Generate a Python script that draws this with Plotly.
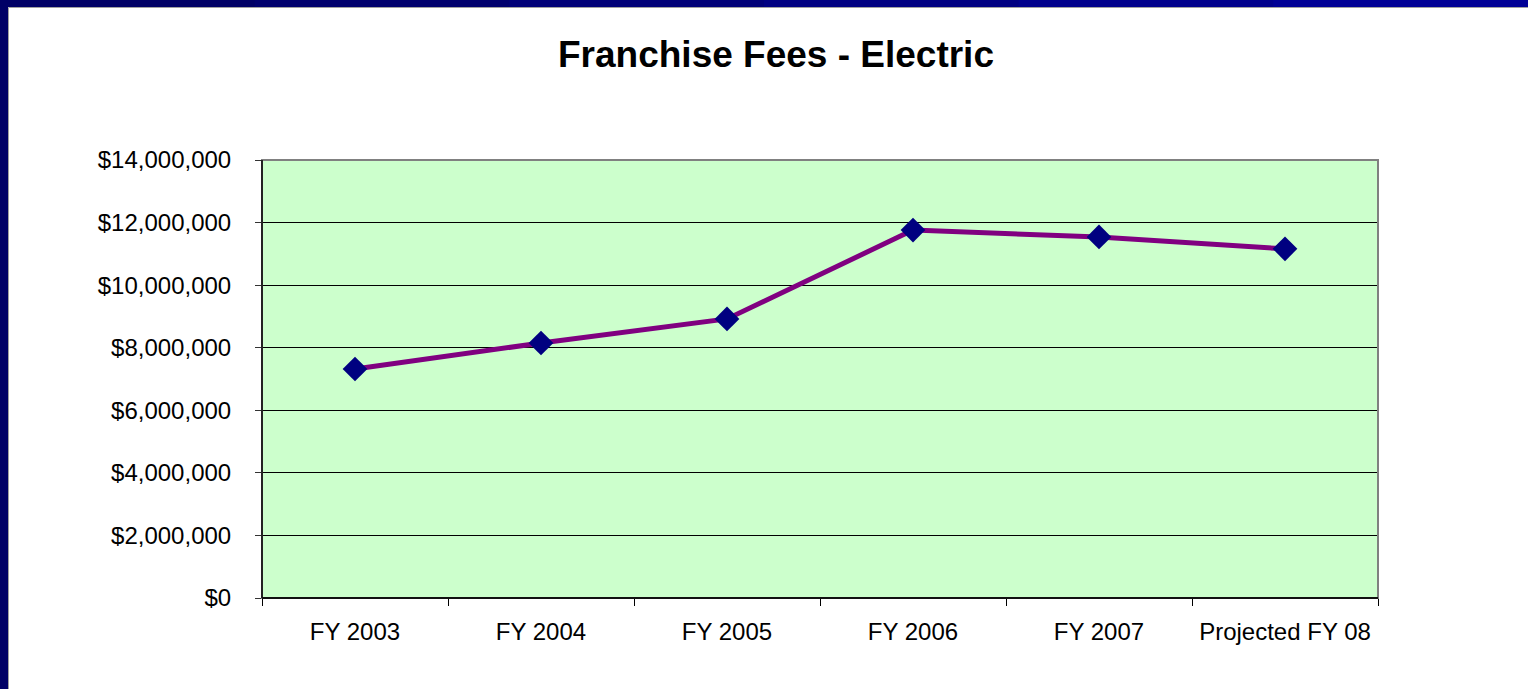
import plotly.graph_objects as go

# Franchise fees, electric
years = ["FY 2003", "FY 2004", "FY 2005", "FY 2006", "FY 2007", "Projected FY 08"]
fees = [7320000, 8150000, 8920000, 11760000, 11540000, 11160000]

W, H = 1528, 689
L, R, T, B = 262, 150, 160, 91
pw, ph = W - L - R, H - T - B


def px_x(p):
    return (p - L) / pw


def px_y(p):
    return 1 - (p - T) / ph


fig = go.Figure()
fig.add_trace(go.Scatter(
    x=years, y=fees, mode="lines+markers",
    line=dict(color="#800080", width=5),
    marker=dict(symbol="diamond", size=19, color="#000080"),
    showlegend=False, hoverinfo="x+y",
))

shapes = []
# plot area frame (gray top/right)
shapes.append(dict(type="rect", xref="paper", yref="paper", x0=0, x1=1, y0=0, y1=1,
                   line=dict(color="#808080", width=2), layer="above"))
shapes.append(dict(type="line", xref="paper", yref="paper", x0=0, x1=0, y0=0, y1=1,
                   line=dict(color="#222222", width=2), layer="above"))
shapes.append(dict(type="line", xref="paper", yref="paper", x0=0, x1=1, y0=0, y1=0,
                   line=dict(color="#111111", width=2), layer="above"))
# navy slide border: left and top
shapes.append(dict(type="rect", xref="paper", yref="paper",
                   x0=px_x(-5), x1=px_x(8), y0=px_y(H + 5), y1=px_y(-5),
                   fillcolor="#000066", line=dict(width=0)))
top_cols = ["#000066", "#00006E", "#000078", "#000082", "#00008C", "#000096"]
seg = W / len(top_cols)
for i, c in enumerate(top_cols):
    shapes.append(dict(type="rect", xref="paper", yref="paper",
                       x0=px_x(i * seg if i else -5), x1=px_x((i + 1) * seg + 2),
                       y0=px_y(7), y1=px_y(-5),
                       fillcolor=c, line=dict(width=0)))
# thin gray inner edge
shapes.append(dict(type="line", xref="paper", yref="paper",
                   x0=px_x(8.5), x1=px_x(W + 5), y0=px_y(7.5), y1=px_y(7.5),
                   line=dict(color="#A0A0A0", width=1)))
shapes.append(dict(type="line", xref="paper", yref="paper",
                   x0=px_x(8.5), x1=px_x(8.5), y0=px_y(7.5), y1=px_y(H + 5),
                   line=dict(color="#A0A0A0", width=1)))

fig.update_layout(
    width=W, height=H,
    margin=dict(l=L, r=R, t=T, b=B, pad=0),
    paper_bgcolor="white",
    plot_bgcolor="#CCFFCC",
    font=dict(family="Liberation Sans, Arial, sans-serif", size=24, color="black"),
    title=dict(text="<b>Franchise Fees - Electric</b>", x=px_x(776), xanchor="center",
               xref="paper", y=1 - 54 / H, yanchor="middle",
               font=dict(size=37, color="black")),
    shapes=shapes,
)
fig.update_xaxes(
    type="category", tickson="boundaries", ticks="outside", ticklen=7,
    tickcolor="black", tickwidth=1, showgrid=False, showline=False,
    ticklabelstandoff=17, range=[-0.5, 5.5],
)
fig.update_yaxes(
    range=[0, 14000000], dtick=2000000, tickprefix="$", tickformat=",",
    ticks="outside", ticklen=6, tickcolor="#333333", tickwidth=1,
    showgrid=True, gridcolor="black", gridwidth=1, zeroline=False, showline=False,
    ticklabelstandoff=19,
)

fig.write_html("out.html", config={"displayModeBar": False},
               post_script="document.body.style.margin='0';")
